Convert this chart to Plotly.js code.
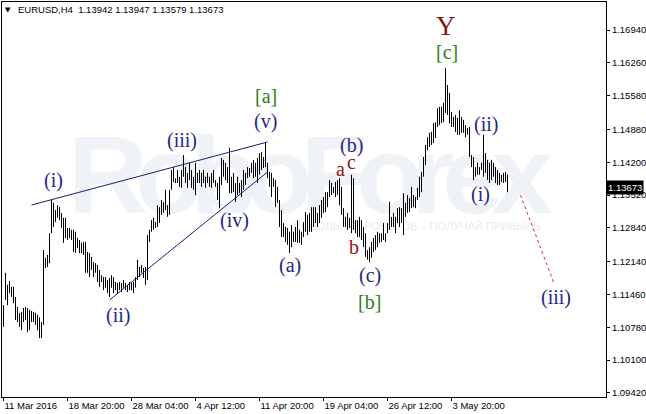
<!DOCTYPE html>
<html>
<head>
<meta charset="utf-8">
<script src="https://cdn.plot.ly/plotly-3.0.1.min.js"></script>
<style>
html,body{margin:0;padding:0;background:#fff;}
#wrap{position:relative;width:646px;height:414px;overflow:hidden;background:#fff;}
#wm{position:absolute;left:68px;top:120px;font-family:"Liberation Sans",Arial,sans-serif;font-weight:bold;font-size:110px;line-height:110px;letter-spacing:-12px;color:#eff2f7;white-space:nowrap;}
#wm2{position:absolute;left:293px;top:220px;font-family:"Liberation Sans",Arial,sans-serif;font-size:11px;line-height:12px;color:#e8ebf1;white-space:nowrap;}
#chart{position:absolute;left:0;top:0;width:646px;height:414px;}
</style>
</head>
<body>
<div id="wrap">
  <div id="wm">RoboForex</div>
  <div id="wm2">ИСПОЛЬЗУЙ РОБОТОВ – ПОЛУЧАЙ ПРИБЫЛЬ</div>
  <div id="chart"></div>
</div>
<script>
// ---- data: EURUSD H4 bars ----
const high = [
1.1124,1.1191,1.1166,1.1174,1.1162,1.1162,1.1141,1.1120,1.1108,1.1110,
1.1118,1.1120,1.1118,1.1114,1.1112,1.1110,1.1108,1.1104,1.1099,1.1089,
1.1238,1.1222,1.1228,1.1273,1.1342,1.1336,1.1321,1.1331,1.1327,1.1315,
1.1305,1.1305,1.1284,1.1284,1.1280,1.1280,1.1276,1.1263,1.1259,1.1253,
1.1255,1.1255,1.1234,1.1232,1.1224,1.1213,1.1211,1.1207,1.1197,1.1186,
1.1182,1.1182,1.1176,1.1180,1.1186,1.1182,1.1172,1.1170,1.1172,1.1170,
1.1176,1.1170,1.1166,1.1172,1.1170,1.1172,1.1182,1.1218,1.1203,1.1207,
1.1201,1.1203,1.1269,1.1280,1.1300,1.1305,1.1296,1.1331,1.1327,1.1342,
1.1338,1.1363,1.1331,1.1363,1.1404,1.1410,1.1387,1.1404,1.1390,1.1404,
1.1435,1.1410,1.1398,1.1419,1.1404,1.1390,1.1419,1.1398,1.1404,1.1398,
1.1404,1.1390,1.1398,1.1390,1.1398,1.1404,1.1383,1.1377,1.1390,1.1429,
1.1425,1.1419,1.1410,1.1450,1.1390,1.1398,1.1377,1.1390,1.1377,1.1383,
1.1404,1.1398,1.1410,1.1408,1.1419,1.1425,1.1419,1.1429,1.1439,1.1441,
1.1431,1.1462,1.1419,1.1400,1.1398,1.1387,1.1383,1.1369,1.1342,1.1321,
1.1294,1.1286,1.1284,1.1276,1.1290,1.1276,1.1286,1.1300,1.1280,1.1276,
1.1296,1.1317,1.1311,1.1315,1.1327,1.1327,1.1327,1.1315,1.1331,1.1342,
1.1348,1.1358,1.1358,1.1383,1.1377,1.1369,1.1379,1.1383,1.1387,1.1369,
1.1325,1.1307,1.1315,1.1305,1.1394,1.1387,1.1300,1.1300,1.1307,1.1300,
1.1286,1.1273,1.1238,1.1244,1.1255,1.1263,1.1269,1.1276,1.1273,1.1273,
1.1294,1.1273,1.1294,1.1338,1.1307,1.1315,1.1307,1.1325,1.1327,1.1325,
1.1356,1.1336,1.1352,1.1346,1.1369,1.1352,1.1348,1.1367,1.1390,1.1400,
1.1431,1.1456,1.1472,1.1481,1.1483,1.1501,1.1503,1.1532,1.1535,1.1535,
1.1543,1.1615,1.1580,1.1564,1.1524,1.1514,1.1518,1.1512,1.1528,1.1514,
1.1508,1.1497,1.1491,1.1493,1.1435,1.1431,1.1410,1.1419,1.1410,1.1419,
1.1477,1.1439,1.1425,1.1419,1.1425,1.1419,1.1410,1.1404,1.1398,1.1394,
1.1398,1.1400,1.13947
];
const low = [
1.1079,1.1135,1.1124,1.1149,1.1141,1.1128,1.1093,1.1089,1.1079,1.1072,
1.1089,1.1093,1.1068,1.1072,1.1089,1.1089,1.1083,1.1072,1.1056,1.1056,
1.1083,1.1201,1.1203,1.1211,1.1273,1.1286,1.1296,1.1305,1.1300,1.1284,
1.1253,1.1263,1.1259,1.1263,1.1259,1.1234,1.1232,1.1242,1.1232,1.1232,
1.1228,1.1191,1.1191,1.1182,1.1197,1.1182,1.1191,1.1172,1.1162,1.1172,
1.1155,1.1160,1.1149,1.1141,1.1160,1.1149,1.1155,1.1149,1.1155,1.1151,
1.1160,1.1155,1.1151,1.1155,1.1155,1.1149,1.1160,1.1176,1.1182,1.1191,
1.1180,1.1166,1.1176,1.1255,1.1276,1.1280,1.1284,1.1286,1.1294,1.1311,
1.1315,1.1321,1.1307,1.1311,1.1363,1.1379,1.1377,1.1377,1.1369,1.1367,
1.1390,1.1377,1.1367,1.1383,1.1367,1.1363,1.1352,1.1377,1.1377,1.1369,
1.1377,1.1367,1.1377,1.1369,1.1367,1.1377,1.1369,1.1342,1.1325,1.1373,
1.1390,1.1383,1.1377,1.1356,1.1356,1.1358,1.1338,1.1352,1.1356,1.1348,
1.1363,1.1373,1.1387,1.1390,1.1398,1.1387,1.1390,1.1377,1.1394,1.1404,
1.1408,1.1410,1.1387,1.1369,1.1348,1.1369,1.1327,1.1336,1.1286,1.1265,
1.1265,1.1255,1.1249,1.1232,1.1244,1.1255,1.1255,1.1253,1.1253,1.1249,
1.1265,1.1276,1.1269,1.1276,1.1276,1.1286,1.1294,1.1286,1.1294,1.1305,
1.1315,1.1317,1.1327,1.1348,1.1352,1.1356,1.1348,1.1352,1.1331,1.1311,
1.1286,1.1286,1.1280,1.1284,1.1273,1.1280,1.1273,1.1265,1.1265,1.1259,
1.1244,1.1224,1.1218,1.1213,1.1222,1.1234,1.1238,1.1244,1.1253,1.1255,
1.1259,1.1255,1.1273,1.1280,1.1286,1.1286,1.1273,1.1294,1.1286,1.1294,
1.1269,1.1307,1.1315,1.1317,1.1325,1.1327,1.1325,1.1342,1.1348,1.1358,
1.1390,1.1414,1.1445,1.1452,1.1456,1.1460,1.1470,1.1493,1.1497,1.1501,
1.1503,1.1522,1.1518,1.1501,1.1493,1.1493,1.1483,1.1477,1.1477,1.1481,
1.1481,1.1472,1.1477,1.1431,1.1410,1.1383,1.1390,1.1394,1.1394,1.1404,
1.1390,1.1398,1.1383,1.1377,1.1383,1.1390,1.1377,1.1373,1.1373,1.1379,
1.1377,1.1379,1.13579
];
const open = [
1.1100,1.1140,1.1160,1.1150,1.1155,1.1150,1.1135,1.1110,1.1095,1.1100,
1.1105,1.1100,1.1098,1.1095,1.1100,1.1098,1.1095,1.1090,1.1080,1.1075,
1.1085,1.1210,1.1215,1.1220,1.1275,1.1300,1.1310,1.1315,1.1315,1.1310,
1.1290,1.1280,1.1270,1.1275,1.1270,1.1265,1.1250,1.1250,1.1250,1.1245,
1.1245,1.1240,1.1210,1.1205,1.1210,1.1205,1.1195,1.1200,1.1185,1.1178,
1.1175,1.1170,1.1165,1.1170,1.1175,1.1170,1.1160,1.1160,1.1162,1.1160,
1.1165,1.1165,1.1160,1.1165,1.1162,1.1165,1.1170,1.1180,1.1195,1.1198,
1.1195,1.1190,1.1180,1.1260,1.1278,1.1290,1.1290,1.1290,1.1320,1.1312,
1.1330,1.1325,1.1330,1.1315,1.1365,1.1395,1.1385,1.1382,1.1380,1.1375,
1.1400,1.1400,1.1385,1.1390,1.1395,1.1375,1.1380,1.1385,1.1390,1.1385,
1.1390,1.1380,1.1385,1.1382,1.1385,1.1390,1.1380,1.1372,1.1360,1.1385,
1.1410,1.1400,1.1395,1.1385,1.1375,1.1370,1.1365,1.1370,1.1365,1.1370,
1.1375,1.1380,1.1390,1.1398,1.1405,1.1405,1.1410,1.1400,1.1420,1.1415,
1.1420,1.1415,1.1415,1.1395,1.1380,1.1375,1.1375,1.1350,1.1340,1.1300,
1.1280,1.1270,1.1265,1.1260,1.1270,1.1260,1.1265,1.1265,1.1270,1.1265,
1.1270,1.1285,1.1290,1.1295,1.1300,1.1305,1.1310,1.1305,1.1310,1.1320,
1.1325,1.1330,1.1340,1.1355,1.1365,1.1360,1.1365,1.1370,1.1365,1.1345,
1.1320,1.1295,1.1295,1.1300,1.1290,1.1310,1.1295,1.1285,1.1280,1.1275,
1.1270,1.1255,1.1230,1.1230,1.1240,1.1245,1.1250,1.1255,1.1260,1.1265,
1.1265,1.1270,1.1275,1.1285,1.1295,1.1300,1.1295,1.1300,1.1310,1.1305,
1.1310,1.1320,1.1325,1.1330,1.1340,1.1335,1.1340,1.1345,1.1360,1.1380,
1.1395,1.1425,1.1450,1.1465,1.1470,1.1475,1.1495,1.1500,1.1520,1.1515,
1.1520,1.1530,1.1560,1.1530,1.1510,1.1505,1.1500,1.1495,1.1505,1.1490,
1.1495,1.1490,1.1485,1.1485,1.1433,1.1420,1.1395,1.1400,1.1405,1.1406,
1.1410,1.1420,1.1410,1.1400,1.1395,1.1400,1.1395,1.1390,1.1385,1.1390,
1.1385,1.1390,1.13942
];
const close = [
1.1120,1.1160,1.1150,1.1155,1.1150,1.1135,1.1110,1.1095,1.1100,1.1105,
1.1100,1.1098,1.1095,1.1100,1.1098,1.1095,1.1090,1.1080,1.1075,1.1085,
1.1210,1.1215,1.1220,1.1270,1.1300,1.1310,1.1315,1.1315,1.1310,1.1290,
1.1280,1.1270,1.1275,1.1270,1.1265,1.1250,1.1250,1.1250,1.1245,1.1245,
1.1240,1.1210,1.1205,1.1210,1.1205,1.1195,1.1200,1.1185,1.1178,1.1175,
1.1170,1.1165,1.1170,1.1175,1.1170,1.1160,1.1160,1.1162,1.1160,1.1165,
1.1165,1.1160,1.1165,1.1162,1.1165,1.1170,1.1180,1.1195,1.1198,1.1195,
1.1190,1.1180,1.1260,1.1278,1.1290,1.1290,1.1290,1.1320,1.1310,1.1330,
1.1325,1.1330,1.1315,1.1360,1.1395,1.1385,1.1382,1.1380,1.1375,1.1400,
1.1400,1.1385,1.1390,1.1395,1.1375,1.1380,1.1385,1.1390,1.1385,1.1390,
1.1380,1.1385,1.1382,1.1385,1.1390,1.1380,1.1372,1.1360,1.1385,1.1410,
1.1400,1.1395,1.1385,1.1375,1.1370,1.1365,1.1370,1.1365,1.1370,1.1375,
1.1380,1.1390,1.1398,1.1405,1.1405,1.1410,1.1400,1.1420,1.1415,1.1420,
1.1415,1.1415,1.1395,1.1380,1.1375,1.1375,1.1350,1.1340,1.1300,1.1280,
1.1270,1.1265,1.1260,1.1270,1.1260,1.1265,1.1265,1.1270,1.1265,1.1270,
1.1285,1.1290,1.1295,1.1300,1.1305,1.1310,1.1305,1.1310,1.1320,1.1325,
1.1330,1.1340,1.1355,1.1365,1.1360,1.1365,1.1370,1.1365,1.1345,1.1320,
1.1295,1.1295,1.1300,1.1290,1.1310,1.1295,1.1285,1.1280,1.1275,1.1270,
1.1255,1.1230,1.1230,1.1240,1.1245,1.1250,1.1255,1.1260,1.1265,1.1265,
1.1270,1.1270,1.1285,1.1295,1.1300,1.1295,1.1300,1.1310,1.1305,1.1310,
1.1320,1.1325,1.1330,1.1340,1.1335,1.1340,1.1345,1.1360,1.1380,1.1395,
1.1425,1.1450,1.1465,1.1470,1.1475,1.1495,1.1500,1.1520,1.1515,1.1520,
1.1530,1.1560,1.1530,1.1510,1.1505,1.1500,1.1495,1.1505,1.1490,1.1495,
1.1490,1.1485,1.1485,1.1440,1.1420,1.1395,1.1400,1.1405,1.1400,1.1410,
1.1420,1.1410,1.1400,1.1395,1.1400,1.1395,1.1390,1.1385,1.1390,1.1385,
1.1390,1.1394,1.13673
];

// x-axis labels (every 32 H4 bars)
const dateTickIdx = [0, 32, 64, 96, 128, 160, 192, 224];
const dateTickText = ["11 Mar 2016","18 Mar 20:00","28 Mar 04:00","4 Apr 12:00","11 Apr 20:00","19 Apr 04:00","26 Apr 12:00","3 May 20:00"];
// y-axis labels
const priceTicks = [1.0942, 1.1010, 1.1078, 1.1146, 1.1214, 1.1284, 1.1352, 1.1420, 1.1488, 1.1558, 1.1626, 1.1694];
const priceTickText = ["1.09420","1.10100","1.10780","1.11460","1.12140","1.12840","1.13520","1.14200","1.14880","1.15580","1.16260","1.16940"];

const symbolHeader = "EURUSD,H4  1.13942 1.13947 1.13579 1.13673";
const lastPrice = 1.13673;

// wave-analysis drawings (bar index, price)
const upperLineIdx = [14, 132];
const upperLinePrice = [1.13314, 1.14620];
const lowerLineIdx = [53, 132];
const lowerLinePrice = [1.11346, 1.13998];
const projIdx = [258.5, 275];
const projPrice = [1.13520, 1.11719];

// wave labels
const waveText  = ["(i)","(ii)","(iii)","(iv)","(v)","[a]","(a)","a","(b)","c","b","(c)","[b]","Y","[c]","(i)","(ii)","(iii)"];
const waveIdx   = [25, 57, 89, 115.5, 131, 131, 143, 168.3, 174, 174, 175, 183, 183, 221, 221.5, 238.3, 241, 276];
const wavePrice = [1.13812, 1.11035, 1.14661, 1.13003, 1.15055, 1.15573, 1.12051, 1.14060, 1.14538, 1.14205, 1.12444, 1.11864, 1.11305, 1.17023, 1.16485, 1.13542, 1.14993, 1.11408];
const waveDegree = ["m","m","m","m","m","i","m","s","m","s","s","m","i","p","i","m","m","m"];

// ---- styles ----
const degreeStyle = {
  m: {color: "#262686", size: 20},
  i: {color: "#2f7f12", size: 20},
  s: {color: "#9c1010", size: 20},
  p: {color: "#7f1a1a", size: 27}
};
const idx = high.map((_, k) => k);

const traces = [
  {
    type: "ohlc", x: idx, open: open, high: high, low: low, close: close,
    increasing: {line: {color: "#000", width: 1}},
    decreasing: {line: {color: "#000", width: 1}},
    tickwidth: 0, hoverinfo: "skip"
  },
  {type: "scatter", mode: "lines", x: upperLineIdx, y: upperLinePrice, line: {color: "#1c1c78", width: 1}, hoverinfo: "skip"},
  {type: "scatter", mode: "lines", x: lowerLineIdx, y: lowerLinePrice, line: {color: "#1c1c78", width: 1}, hoverinfo: "skip"},
  {type: "scatter", mode: "lines", x: projIdx, y: projPrice, line: {color: "#e0245e", width: 1, dash: "dot"}, hoverinfo: "skip"}
];

const annotations = waveText.map((t, k) => ({
  x: waveIdx[k], y: wavePrice[k], xref: "x", yref: "y", text: t, showarrow: false,
  font: {family: "Liberation Serif, Times New Roman, serif", size: degreeStyle[waveDegree[k]].size, color: degreeStyle[waveDegree[k]].color},
  xanchor: "center", yanchor: "middle"
}));
annotations.push({
  x: 1, y: lastPrice, xref: "paper", yref: "y", text: lastPrice.toFixed(5), showarrow: false,
  bgcolor: "#000", font: {family: "Liberation Sans, Arial, sans-serif", size: 9.5, color: "#fff"},
  xanchor: "left", yanchor: "middle", borderpad: 1, xshift: 0
});
annotations.push({
  x: 0.0099, y: 0.9797, xref: "paper", yref: "paper", text: "▼", showarrow: false,
  font: {family: "DejaVu Sans, sans-serif", size: 7, color: "#000"}, xanchor: "center", yanchor: "middle"
});

const layout = {
  width: 646, height: 414,
  margin: {l: 2, r: 40, t: 2, b: 17, pad: 0},
  paper_bgcolor: "rgba(0,0,0,0)", plot_bgcolor: "rgba(0,0,0,0)",
  showlegend: false,
  font: {family: "Liberation Sans, Arial, sans-serif", size: 10, color: "#000"},
  title: {text: symbolHeader, x: 18/646, xref: "container", xanchor: "left", y: 1 - 10/414, yref: "container", yanchor: "middle",
          font: {family: "Liberation Sans, Arial, sans-serif", size: 9.5, color: "#000"}},
  xaxis: {
    range: [-0.75, 301.25], tickmode: "array", tickvals: dateTickIdx, ticktext: dateTickText,
    ticks: "outside", ticklen: 3, tickcolor: "#000", ticklabelposition: "outside right", tickangle: 0,
    tickfont: {size: 9.5}, showline: true, mirror: true, linecolor: "#000", linewidth: 1,
    showgrid: false, zeroline: false, rangeslider: {visible: false}, fixedrange: true
  },
  yaxis: {
    side: "right", range: [1.09336, 1.17521], tickmode: "array", tickvals: priceTicks, ticktext: priceTickText,
    ticks: "outside", ticklen: 3, tickcolor: "#000", tickfont: {size: 9.5},
    showline: true, mirror: true, linecolor: "#000", linewidth: 1,
    showgrid: false, zeroline: false, fixedrange: true
  },
  annotations: annotations
};

Plotly.newPlot("chart", traces, layout, {staticPlot: true, displayModeBar: false});
</script>
</body>
</html>
